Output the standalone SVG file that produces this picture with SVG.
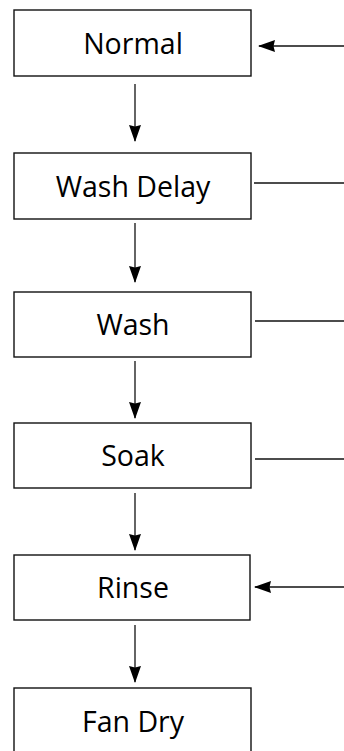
<svg xmlns="http://www.w3.org/2000/svg" width="344" height="751" viewBox="0 0 344 751">
<style>
.box{fill:#ffffff;stroke:#111111;stroke-width:1.4}
.lbl{font-family:"Open Sans","Noto Sans",sans-serif;font-size:28.5px;fill:#000000;text-anchor:middle}
.ln{stroke:#111111;stroke-width:1.3;fill:none}
</style>
<defs>
<marker id="ah" markerUnits="userSpaceOnUse" markerWidth="17" markerHeight="12" refX="16" refY="6" orient="auto" viewBox="0 0 17 12">
<path d="M0,0 L17,6 L0,12 L1.5,6 z" fill="#000"/>
</marker>
</defs>
<rect width="344" height="751" fill="#ffffff"/>
<g id="node-normal"><rect class="box" x="14" y="10" width="237" height="66"/><text class="lbl" x="133" y="54">Normal</text></g>
<g id="node-washdelay"><rect class="box" x="14" y="153" width="237" height="66"/><text class="lbl" x="133" y="197">Wash Delay</text></g>
<g id="node-wash"><rect class="box" x="14" y="292" width="237" height="65"/><text class="lbl" x="133" y="335">Wash</text></g>
<g id="node-soak"><rect class="box" x="14" y="423" width="237" height="65"/><text class="lbl" x="133" y="466">Soak</text></g>
<g id="node-rinse"><rect class="box" x="14" y="555" width="236" height="65"/><text class="lbl" x="133" y="598">Rinse</text></g>
<g id="node-fandry"><rect class="box" x="14" y="688" width="237" height="66"/><text class="lbl" x="133" y="732">Fan Dry</text></g>
<g id="connectors">
<line class="ln" x1="135" y1="84" x2="135" y2="141" marker-end="url(#ah)"/>
<line class="ln" x1="135" y1="223" x2="135" y2="282" marker-end="url(#ah)"/>
<line class="ln" x1="135" y1="361" x2="135" y2="418" marker-end="url(#ah)"/>
<line class="ln" x1="135" y1="493" x2="135" y2="550" marker-end="url(#ah)"/>
<line class="ln" x1="135" y1="625" x2="135" y2="682" marker-end="url(#ah)"/>
<line class="ln" x1="344" y1="46" x2="259" y2="46" marker-end="url(#ah)"/>
<line class="ln" x1="254" y1="183" x2="344" y2="183"/>
<line class="ln" x1="255" y1="321" x2="344" y2="321"/>
<line class="ln" x1="255" y1="459" x2="344" y2="459"/>
<line class="ln" x1="344" y1="587" x2="255" y2="587" marker-end="url(#ah)"/>
</g>
</svg>
